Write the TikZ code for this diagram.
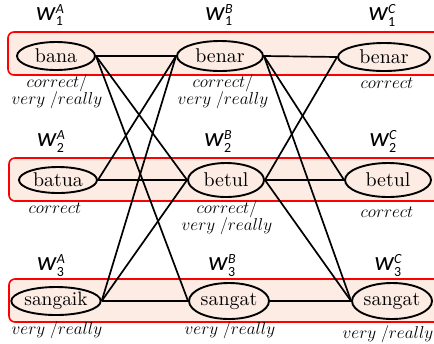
\documentclass[tikz,border=0pt]{standalone}
\usepackage{fontspec}
\setmainfont{lmroman10-regular}[Extension=.otf,ItalicFont=lmroman10-italic]
\newfontfamily\carl{Carlito}
\definecolor{boxfill}{HTML}{FDECE4}
\definecolor{boxred}{HTML}{FF0000}
\newcommand\wlab[2]{{\carl\itshape\fontsize{27}{28}\selectfont w}\kern0.5bp{\carl\fontsize{14}{12.5}\selectfont\begin{tabular}[c]{@{}l@{}}{\itshape #2}\\#1\end{tabular}}}
\begin{document}
\begin{tikzpicture}[x=1bp,y=-1bp,
  rowbox/.style={draw=boxred,line width=1.6bp,fill=boxfill,rounded corners=6bp},
  word/.style={ellipse,draw=black,line width=1.9bp,fill=boxfill,inner sep=0pt,font=\fontsize{20}{24}\selectfont},
  gloss/.style={align=center,inner sep=0pt,font=\fontsize{17}{20}\selectfont},
  wl/.style={inner sep=0pt},
  edge/.style={line width=1.7bp}]
\usetikzlibrary{shapes.geometric}
\useasboundingbox (0,0) rectangle (434,343);
% row boxes
\draw[rowbox] (8,32) rectangle (445,75);
\draw[rowbox] (9,158) rectangle (445,201);
\draw[rowbox] (9,279) rectangle (445,322);
% words
\node[word,minimum width=78bp,minimum height=28bp] (a1) at (56,56) {bana};
\node[word,minimum width=86bp,minimum height=30bp] (b1) at (220,56) {benar};
\node[word,minimum width=92bp,minimum height=28bp] (c1) at (384,57) {benar};
\node[word,minimum width=78bp,minimum height=26bp] (a2) at (58,180) {batua};
\node[word,minimum width=76bp,minimum height=34bp] (b2) at (226,180) {betul};
\node[word,minimum width=86bp,minimum height=34bp] (c2) at (388,180) {betul};
\node[word,minimum width=78bp,minimum height=28bp,font=\fontsize{19.5}{24}\selectfont] (a3) at (56,301) {sangaik};
\node[word,minimum width=76bp,minimum height=36bp] (b3) at (229,301) {sangat};
\node[word,minimum width=80bp,minimum height=36bp] (c3) at (392,301) {sangat};
% edges
\draw[edge] (a1.east) -- (b1.west);
\draw[edge] (a1.east) -- (b2.west);
\draw[edge] (a1.east) -- (b3.west);
\draw[edge] (b1.west) -- (a2.east);
\draw[edge] (b1.west) -- (a3.east);
\draw[edge] (b1.east) -- (c1.west);
\draw[edge] (b1.east) -- (c2.west);
\draw[edge] (b1.east) -- (c3.west);
\draw[edge] (a2.east) -- (b2.west);
\draw[edge] (b2.west) -- (a3.east);
\draw[edge] (b2.east) -- (c2.west);
\draw[edge] (b2.east) -- (c1.west);
\draw[edge] (b2.east) -- (c3.west);
\draw[edge] (a3.east) -- (b3.west);
\draw[edge] (b3.east) -- (c3.west);
% w labels
\node[wl] (wa1) at (50,17) {\wlab{1}{A}};
\node[wl] (wb1) at (219,17) {\wlab{1}{B}};
\node[wl] (wc1) at (382,17) {\wlab{1}{C}};
\node[wl] (wa2) at (51,143) {\wlab{2}{A}};
\node[wl] (wb2) at (218,143) {\wlab{2}{B}};
\node[wl] (wc2) at (383,143) {\wlab{2}{C}};
\node[wl] (wa3) at (51,267) {\wlab{3}{A}};
\node[wl] (wb3) at (222,267) {\wlab{3}{B}};
\node[wl] (wc3) at (388,267) {\wlab{3}{C}};
% glosses
\node[gloss] (ga1) at (57,92) {$correct/$\\[-3bp]$very\;/really$};
\node[gloss] (gb1) at (223,92) {$correct/$\\[-3bp]$very\;/really$};
\node[gloss] (gc1) at (387,83) {$correct$};
\node[gloss] (ga2) at (55,208) {$correct$};
\node[gloss] (gb2) at (227,218) {$correct/$\\[-3bp]$very\;/really$};
\node[gloss] (gc2) at (387,212) {$correct$};
\node[gloss] (ga3) at (57,330) {$very\;/really$};
\node[gloss] (gb3) at (230,330) {$very\;/really$};
\node[gloss] (gc3) at (388,334) {$very\;/really$};
\end{tikzpicture}
\end{document}
